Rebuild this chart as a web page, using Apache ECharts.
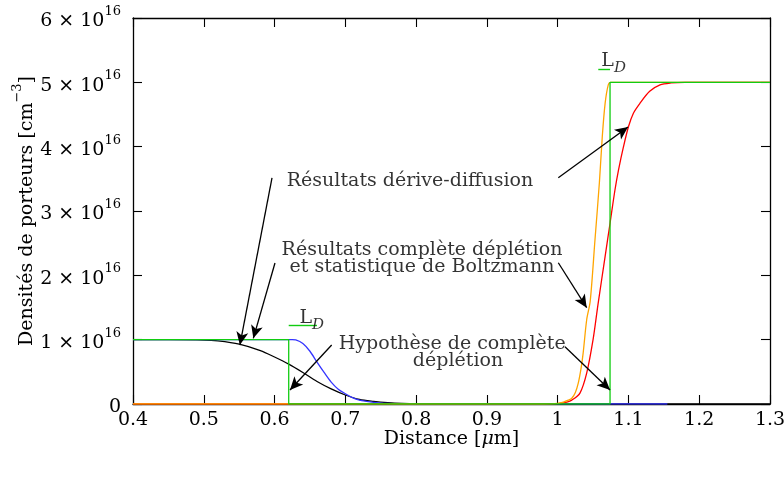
<!DOCTYPE html>
<html><head><meta charset="utf-8">
<script src="https://cdn.jsdelivr.net/npm/echarts@6/dist/echarts.min.js"></script>
<style>html,body{margin:0;padding:0;background:#fff}#c{width:784px;height:480px}</style>
</head><body><div id="c"></div>
<script>
// x : distance in µm ; y : density in units of 1e16 cm^-3
const xTicks = [0.4, 0.5, 0.6, 0.7, 0.8, 0.9, 1.0, 1.1, 1.2, 1.3];
const yTicks = [0, 1, 2, 3, 4, 5, 6];

// drift-diffusion (black, left side)
const ddX = [0.40, 0.45, 0.50, 0.52, 0.55, 0.58, 0.60, 0.62, 0.64, 0.66, 0.68, 0.70, 0.72, 0.74, 0.76, 0.78, 0.80, 1.30];
const ddY = [1.00, 1.00, 0.995, 0.98, 0.93, 0.83, 0.73, 0.62, 0.49, 0.35, 0.235, 0.14, 0.07, 0.04, 0.02, 0.008, 0.003, 0];

// complete depletion + Boltzmann (blue, left side)
const cbX = [0.40, 0.62, 0.625, 0.63, 0.64, 0.65, 0.66, 0.67, 0.68, 0.69, 0.70, 0.71, 0.72, 0.73, 0.74, 0.75, 0.76, 0.78, 1.155];
const cbY = [1.00, 1.00, 1.00, 0.995, 0.94, 0.82, 0.65, 0.49, 0.34, 0.23, 0.16, 0.10, 0.06, 0.04, 0.025, 0.015, 0.008, 0.002, 0];

// complete-depletion hypothesis (green step)
const stepX = [0.40, 0.62, 0.62, 1.074, 1.074, 1.30];
const stepY = [1, 1, 0, 0, 5, 5];

// complete depletion + Boltzmann (orange, right side)
const orX = [0.40, 0.98, 1.000, 1.008, 1.015, 1.020, 1.025, 1.029, 1.033, 1.036, 1.041, 1.046, 1.0527, 1.059, 1.063, 1.067, 1.0715, 1.075, 1.30];
const orY = [0, 0, 0.01, 0.03, 0.06, 0.09, 0.18, 0.32, 0.55, 0.79, 1.31, 1.60, 2.55, 3.45, 4.15, 4.67, 4.96, 5.0, 5.0];

// drift-diffusion (red, right side)
const rdX = [0.40, 0.98, 1.000, 1.013, 1.020, 1.0315, 1.041, 1.050, 1.057, 1.067, 1.074, 1.081, 1.086, 1.093, 1.100, 1.107, 1.116, 1.130, 1.1446, 1.160, 1.180, 1.30];
const rdY = [0, 0, 0.005, 0.03, 0.06, 0.17, 0.48, 1.00, 1.55, 2.29, 2.81, 3.33, 3.64, 4.00, 4.31, 4.52, 4.67, 4.86, 4.96, 4.99, 5.0, 5.0];

// annotations (data coordinates)
const noteText = ['Résultats dérive-diffusion', 'Résultats complète déplétion\net statistique de Boltzmann', 'Hypothèse de complète', 'déplétion'];
const noteAt = [[0.7914, 3.467], [0.8083, 2.254], [0.851, 0.933], [0.8592, 0.668]];
const arrowFrom = [[0.5964, 3.513], [1.0009, 3.518], [0.6006, 2.192], [1.0009, 2.196], [0.6807, 0.917], [1.0103, 0.891]];
const arrowTo = [[0.551, 0.917], [1.0994, 4.306], [0.570, 1.021], [1.041, 1.497], [0.6218, 0.218], [1.074, 0.218]];
const ldAt = [[0.6525, 1.30], [1.0790, 5.29]];
const ldFrom = [[0.62, 1.217], [1.0574, 5.207]];
const ldTo = [[0.66, 1.217], [1.074, 5.207]];

const FONT = 'DejaVu Serif';
const TXT = '#000';
const FS = 19;
const zip = (a, b) => a.map((v, i) => [v, b[i]]);

const chart = echarts.init(document.getElementById('c'), null, {renderer: 'canvas'});

const axisBase = {
  type: 'value',
  axisLine: {show: true, onZero: false, lineStyle: {color: '#000', width: 1.3}},
  axisTick: {show: true, inside: true, length: 9, lineStyle: {color: '#000', width: 1.1}},
  splitLine: {show: false}
};

function lineSeries(name, xs, ys, color, smooth) {
  return {
    name, type: 'line', data: zip(xs, ys), showSymbol: false, symbol: 'none',
    smooth: smooth ? 0.3 : false,
    lineStyle: {color, width: 1.3}, animation: false, silent: true, z: 2
  };
}

const supRich = {
  n: {fontFamily: FONT, fontSize: FS, color: TXT, lineHeight: 26, verticalAlign: 'bottom'},
  s: {fontFamily: FONT, fontSize: 13, color: TXT, lineHeight: 26, verticalAlign: 'top'}
};

const option = {
  animation: false,
  grid: {left: 133, right: 14, top: 18, bottom: 76, containLabel: false, outerBoundsMode: 'none'},
  xAxis: [
    Object.assign({}, axisBase, {
      min: 0.4, max: 1.3, interval: 0.1, position: 'bottom',
      axisLabel: {color: TXT, fontFamily: FONT, fontSize: FS, margin: 7,
        formatter: v => (Math.round(v * 10) / 10).toString()},
      name: '{a|Distance [}{m|μ}{a|m]}', nameLocation: 'middle', nameGap: 26, nameMoveOverlap: false,
      nameTextStyle: {rich: {a: {fontFamily: FONT, fontSize: FS, color: TXT}, m: {fontFamily: FONT, fontSize: FS, fontStyle: 'italic', color: TXT}}}
    }),
    Object.assign({}, axisBase, {
      min: 0.4, max: 1.3, interval: 0.1, position: 'top', axisLabel: {show: false}
    })
  ],
  yAxis: [
    Object.assign({}, axisBase, {
      min: 0, max: 6, interval: 1, position: 'left',
      axisLabel: {margin: 12, formatter: v => v === 0 ? '{n|0}' : '{n|' + v + ' × 10}{s|16}', rich: supRich},
      name: '{n|Densités de porteurs [cm}{s|−3}{n|]}', nameLocation: 'middle', nameGap: 96, nameMoveOverlap: false,
      nameTextStyle: {rich: supRich}
    }),
    Object.assign({}, axisBase, {
      min: 0, max: 6, interval: 1, position: 'right', axisLabel: {show: false}
    })
  ],
  series: [
    lineSeries('dérive-diffusion (gauche)', ddX, ddY, '#000000', true),
    lineSeries('complète déplétion + Boltzmann (gauche)', cbX, cbY, '#3535ff', true),
    lineSeries('dérive-diffusion (droite)', rdX, rdY, '#ff0000', true),
    lineSeries('complète déplétion + Boltzmann (droite)', orX, orY, '#ffa500', true),
    lineSeries('Hypothèse de complète déplétion', stepX, stepY, '#11cc11', false),
    {
      name: 'annotations', type: 'scatter', symbolSize: 0, silent: true, z: 5,
      data: noteAt.map((p, i) => ({value: p, label: {formatter: noteText[i]}}))
        .concat(ldAt.map(p => ({value: p, label: {formatter: '{l|L}{d|D}'}}))),
      label: {show: true, position: 'inside', color: TXT, fontFamily: FONT, fontSize: FS, lineHeight: 17,
        rich: {l: {fontFamily: FONT, fontSize: FS, color: TXT, lineHeight: 24, verticalAlign: 'top'},
               d: {fontFamily: FONT, fontSize: 15, fontStyle: 'italic', color: TXT, lineHeight: 24, verticalAlign: 'bottom'}}},
      markLine: {
        silent: true, animation: false, label: {show: false}, symbol: ['none', 'arrow'], symbolSize: [9, 13],
        lineStyle: {color: '#000', width: 1.3, type: 'solid'},
        data: arrowFrom.map((p, i) => [{coord: p}, {coord: arrowTo[i]}])
          .concat(ldFrom.map((p, i) => [{coord: p, symbol: 'none', lineStyle: {color: '#11cc11', width: 1.4}},
                                        {coord: ldTo[i], symbol: 'none', lineStyle: {color: '#11cc11', width: 1.4}}]))
      }
    }
  ]
};
chart.setOption(option);
</script></body></html>
